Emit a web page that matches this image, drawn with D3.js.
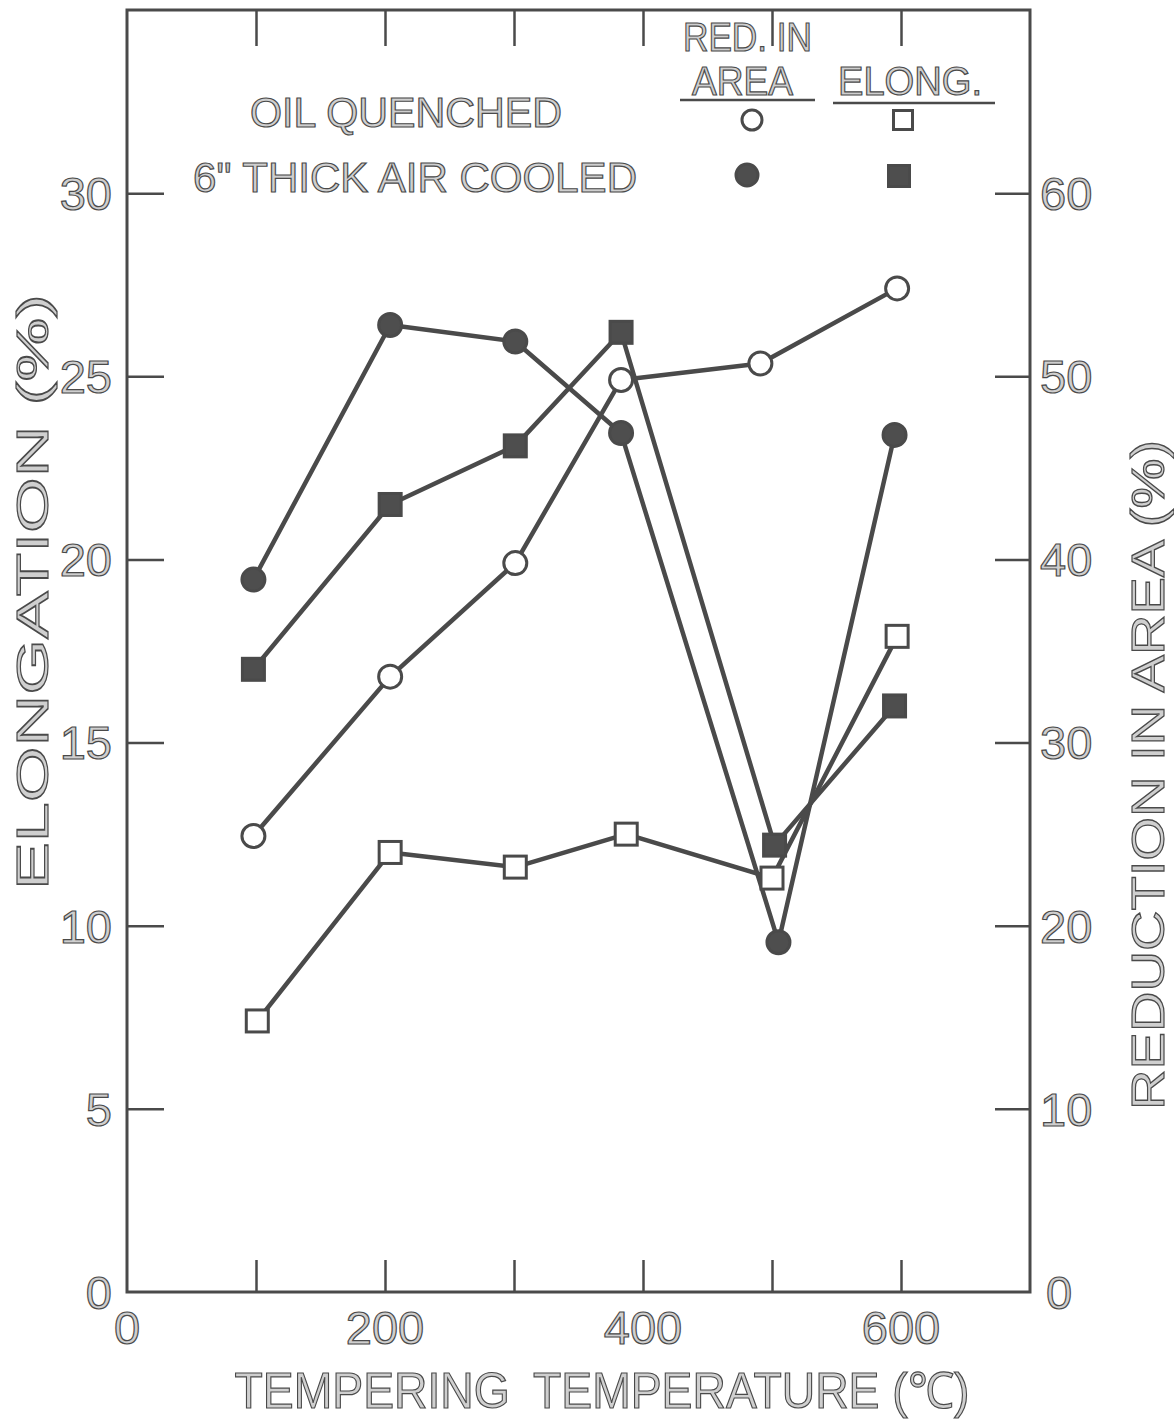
<!DOCTYPE html>
<html>
<head>
<meta charset="utf-8">
<script src="https://cdn.jsdelivr.net/npm/d3@7"></script>
<style>
  html, body { margin: 0; padding: 0; background: #fff; }
  svg { display: block; }
  text { font-family: "Liberation Sans", Arial, sans-serif; fill: #cfcfcf; stroke: #4a4a4a; stroke-width: 1.2px; }
</style>
</head>
<body>
<svg id="chart" width="1174" height="1420"></svg>
<script>
// Tick values
const tempTicks = [0, 200, 400, 600];
const tempMinorTicks = [100, 200, 300, 400, 500, 600];
const elongTicks = [0, 5, 10, 15, 20, 25, 30];
const raTicks = [0, 10, 20, 30, 40, 50, 60];

// Oil quenched: reduction in area (%)
const oqRaTemp = [98, 204, 301, 383, 491, 597];
const oqRa = [24.9, 33.6, 39.8, 49.8, 50.7, 54.8];
// 6" thick air cooled: reduction in area (%)
const acRaTemp = [98, 204, 301, 383, 505, 595];
const acRa = [38.9, 52.8, 51.9, 46.9, 19.1, 46.8];
// 6" thick air cooled: elongation (%)
const acElTemp = [98, 204, 301, 383, 502, 595];
const acEl = [17.0, 21.5, 23.1, 26.2, 12.2, 16.0];
// Oil quenched: elongation (%)
const oqElTemp = [101, 204, 301, 387, 500, 597];
const oqEl = [7.4, 12.0, 11.6, 12.5, 11.3, 17.9];

const svg = d3.select("#chart");
const L = 127, R = 1030, T = 10, B = 1292;
const ink = "#4a4a4a";

const x = d3.scaleLinear().domain([0, 700]).range([L, R]);
const yEl = d3.scaleLinear().domain([0, 35]).range([B, T]);
const yRa = d3.scaleLinear().domain([0, 70]).range([B, T]);

// Frame
svg.append("rect").attr("x", L).attr("y", T).attr("width", R - L).attr("height", B - T)
  .attr("fill", "none").attr("stroke", ink).attr("stroke-width", 3);

// Left axis: elongation
const leftAxis = svg.append("g").attr("transform", `translate(${L},0)`)
  .call(d3.axisRight(yEl).tickValues(elongTicks.filter(d => d > 0)).tickSize(37).tickFormat(""));
leftAxis.select(".domain").remove();
leftAxis.selectAll("line").attr("stroke", ink).attr("stroke-width", 2.5);
svg.append("g").selectAll("text").data(elongTicks).join("text")
  .attr("x", L - 15).attr("y", d => yEl(d)).attr("dy", "0.36em")
  .attr("text-anchor", "end").attr("font-size", 47).text(d => d);

// Right axis: reduction in area
const rightAxis = svg.append("g").attr("transform", `translate(${R},0)`)
  .call(d3.axisLeft(yRa).tickValues(raTicks.filter(d => d > 0)).tickSize(35).tickFormat(""));
rightAxis.select(".domain").remove();
rightAxis.selectAll("line").attr("stroke", ink).attr("stroke-width", 2.5);
svg.append("g").selectAll("text").data(raTicks).join("text")
  .attr("x", d => R + (d === 0 ? 16 : 10)).attr("y", d => yRa(d)).attr("dy", "0.36em")
  .attr("text-anchor", "start").attr("font-size", 47).text(d => d);

// Bottom and top temperature ticks
const bottomAxis = svg.append("g").attr("transform", `translate(0,${B})`)
  .call(d3.axisTop(x).tickValues(tempMinorTicks).tickSize(32).tickFormat(""));
bottomAxis.select(".domain").remove();
bottomAxis.selectAll("line").attr("stroke", ink).attr("stroke-width", 2.5);
const topAxis = svg.append("g").attr("transform", `translate(0,${T})`)
  .call(d3.axisBottom(x).tickValues(tempMinorTicks).tickSize(36).tickFormat(""));
topAxis.select(".domain").remove();
topAxis.selectAll("line").attr("stroke", ink).attr("stroke-width", 2.5);
svg.append("g").selectAll("text").data(tempTicks).join("text")
  .attr("x", d => x(d)).attr("y", 1327).attr("dy", "0.36em")
  .attr("text-anchor", "middle").attr("font-size", 47).text(d => d);

// Axis titles
svg.append("text").attr("x", 602).attr("y", 1408)
  .attr("text-anchor", "middle").attr("font-size", 50)
  .attr("textLength", 735).attr("lengthAdjust", "spacingAndGlyphs")
  .text("TEMPERING\u2002TEMPERATURE (\u2103)");
svg.append("text").attr("transform", "translate(48,592) rotate(-90)")
  .attr("text-anchor", "middle").attr("font-size", 45)
  .attr("textLength", 596).attr("lengthAdjust", "spacingAndGlyphs")
  .text("ELONGATION (%)");
svg.append("text").attr("transform", "translate(1164,775) rotate(-90)")
  .attr("text-anchor", "middle").attr("font-size", 46)
  .attr("textLength", 670).attr("lengthAdjust", "spacingAndGlyphs")
  .text("REDUCTION IN AREA (%)");

// Series lines
const series = [
  { t: oqRaTemp, v: oqRa, y: yRa, shape: "circle", filled: false },
  { t: acRaTemp, v: acRa, y: yRa, shape: "circle", filled: true },
  { t: acElTemp, v: acEl, y: yEl, shape: "square", filled: true },
  { t: oqElTemp, v: oqEl, y: yEl, shape: "square", filled: false }
];
const lineGen = d3.line().x(d => x(d[0])).y(d => d[1]);
series.forEach(s => {
  const pts = s.t.map((t, i) => [t, s.y(s.v[i])]);
  svg.append("path").attr("d", lineGen(pts))
    .attr("fill", "none").attr("stroke", ink).attr("stroke-width", 4.5)
    .attr("stroke-linejoin", "round");
});

function drawMarker(g, cx, cy, shape, filled, size) {
  const fill = filled ? "#4e4e4e" : "#fff";
  if (shape === "circle") {
    g.append("circle").attr("cx", cx).attr("cy", cy).attr("r", size / 2)
      .attr("fill", fill).attr("stroke", ink).attr("stroke-width", 3);
  } else {
    g.append("rect").attr("x", cx - size / 2).attr("y", cy - size / 2)
      .attr("width", size).attr("height", size)
      .attr("fill", fill).attr("stroke", ink).attr("stroke-width", 3);
  }
}

const marks = svg.append("g");
series.forEach(s => {
  s.t.forEach((t, i) => drawMarker(marks, x(t), s.y(s.v[i]), s.shape, s.filled, s.shape === "circle" ? 23 : 22));
});

// Legend
const leg = svg.append("g");
leg.append("text").attr("x", 250).attr("y", 127).attr("font-size", 42)
  .attr("textLength", 312).attr("lengthAdjust", "spacingAndGlyphs").text("OIL QUENCHED");
leg.append("text").attr("x", 193).attr("y", 192).attr("font-size", 43)
  .attr("textLength", 444).attr("lengthAdjust", "spacingAndGlyphs").text("6\" THICK AIR COOLED");
leg.append("text").attr("x", 683).attr("y", 51).attr("font-size", 40)
  .attr("textLength", 129).attr("lengthAdjust", "spacingAndGlyphs").text("RED. IN");
leg.append("text").attr("x", 692).attr("y", 95).attr("font-size", 40)
  .attr("textLength", 101).attr("lengthAdjust", "spacingAndGlyphs").text("AREA");
leg.append("text").attr("x", 838).attr("y", 95).attr("font-size", 40)
  .attr("textLength", 144).attr("lengthAdjust", "spacingAndGlyphs").text("ELONG.");
leg.append("line").attr("x1", 680).attr("x2", 815).attr("y1", 100).attr("y2", 100)
  .attr("stroke", ink).attr("stroke-width", 2.5);
leg.append("line").attr("x1", 833).attr("x2", 995).attr("y1", 103).attr("y2", 103)
  .attr("stroke", ink).attr("stroke-width", 2.5);
drawMarker(leg, 752, 120, "circle", false, 20);
drawMarker(leg, 903, 120, "square", false, 19);
drawMarker(leg, 747, 175, "circle", true, 22);
drawMarker(leg, 899, 176, "square", true, 21);
</script>
</body>
</html>
